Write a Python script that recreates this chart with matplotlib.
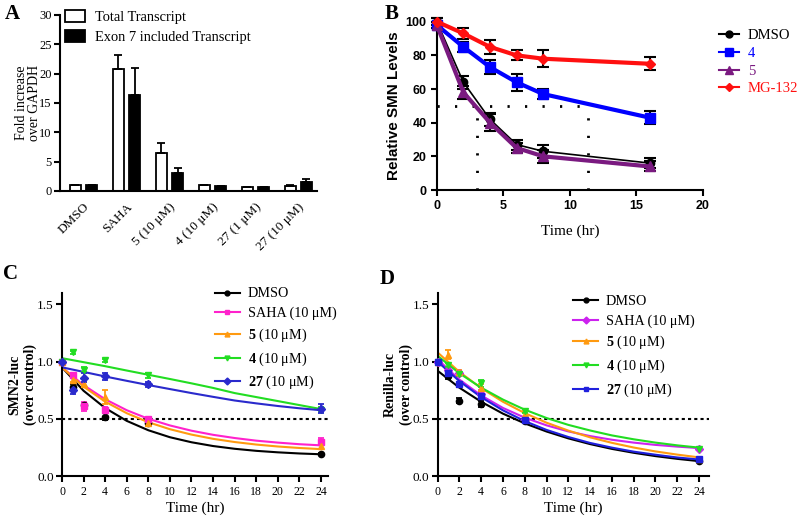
import numpy as np
import matplotlib
matplotlib.use("Agg")
import matplotlib.pyplot as plt
from matplotlib.patches import Patch
from matplotlib.lines import Line2D

plt.rcParams['font.family'] = ['Liberation Serif', 'DejaVu Serif']
plt.rcParams['mathtext.fontset'] = 'custom'
plt.rcParams['mathtext.rm'] = 'Liberation Serif'
plt.rcParams['mathtext.bf'] = 'Liberation Serif:bold'
SANS = ['Liberation Sans', 'DejaVu Sans']

# ---- panel A: transcript levels
a_groups = ['DMSO', 'SAHA', '5 (10 μM)', '4 (10 μM)', '27 (1 μM)', '27 (10 μM)']
a_total = [1.0, 20.8, 6.5, 1.0, 0.6, 0.9]
a_total_err = [0.0, 2.3, 1.6, 0.1, 0.1, 0.1]
a_exon7 = [1.0, 16.3, 3.1, 0.8, 0.6, 1.6]
a_exon7_err = [0.0, 4.6, 0.8, 0.1, 0.1, 0.5]

# ---- panel B: SMN protein time course
b_time = [0, 2, 4, 6, 8, 16]
b_dmso = [100, 64, 42, 27, 23, 16]
b_dmso_err = [2, 4, 4, 3, 4, 3]
b_c4 = [98, 85, 73, 64, 57, 43]
b_c4_err = [2, 3, 4, 5, 3, 4]
b_c5 = [98, 58, 40, 25, 20, 14]
b_c5_err = [2, 4, 5, 3, 4, 3]
b_mg = [100, 93, 85, 80, 78, 75]
b_mg_err = [2, 3, 4, 3, 5, 4]
b_half_times = [3.0, 11.4]

# ---- panels C/D: luciferase time course (points) and fitted curves
cd_time = [0, 1, 2, 4, 8, 24]
fit_time = [0, 2, 4, 6, 8, 10, 12, 14, 16, 18, 20, 22, 24]
series_labels = ['DMSO', 'SAHA (10 μM)', r'$\mathbf{5}$ (10 μM)',
                 r'$\mathbf{4}$ (10 μM)', r'$\mathbf{27}$ (10 μM)']

c_pts = [[1.00, 0.78, 0.62, 0.52, 0.46, 0.19],
         [1.00, 0.88, 0.61, 0.58, 0.50, 0.30],
         [1.00, 0.84, 0.80, 0.69, 0.46, 0.26],
         [1.00, 1.08, 0.93, 1.01, 0.88, 0.58],
         [1.00, 0.75, 0.86, 0.87, 0.80, 0.59]]
c_err = [[0.0, 0.02, 0.02, 0.03, 0.02, 0.01],
         [0.0, 0.02, 0.04, 0.02, 0.02, 0.03],
         [0.0, 0.02, 0.02, 0.06, 0.02, 0.02],
         [0.0, 0.01, 0.02, 0.01, 0.02, 0.02],
         [0.0, 0.03, 0.04, 0.03, 0.02, 0.04]]
c_fit = [[0.95, 0.745, 0.594, 0.482, 0.400, 0.339, 0.295, 0.262, 0.238, 0.220, 0.207, 0.197, 0.190],
         [0.95, 0.794, 0.671, 0.575, 0.500, 0.442, 0.396, 0.360, 0.332, 0.309, 0.292, 0.278, 0.268],
         [0.95, 0.781, 0.650, 0.549, 0.470, 0.409, 0.362, 0.325, 0.297, 0.275, 0.258, 0.245, 0.235],
         [1.03, 0.995, 0.960, 0.922, 0.885, 0.848, 0.810, 0.770, 0.725, 0.690, 0.655, 0.620, 0.585],
         [0.95, 0.910, 0.870, 0.832, 0.795, 0.760, 0.725, 0.692, 0.660, 0.635, 0.612, 0.592, 0.575]]

d_pts = [[1.00, 0.87, 0.66, 0.63, 0.48, 0.13],
         [1.00, 0.93, 0.90, 0.72, 0.50, 0.24],
         [1.00, 1.06, 0.91, 0.77, 0.54, 0.15],
         [1.00, 0.97, 0.89, 0.81, 0.57, 0.24],
         [1.00, 0.90, 0.80, 0.70, 0.49, 0.15]]
d_err = [[0.0, 0.02, 0.02, 0.03, 0.02, 0.01],
         [0.0, 0.02, 0.02, 0.03, 0.02, 0.01],
         [0.0, 0.04, 0.02, 0.03, 0.03, 0.01],
         [0.0, 0.02, 0.02, 0.03, 0.02, 0.01],
         [0.0, 0.02, 0.02, 0.03, 0.02, 0.01]]
d_fit = [[0.92, 0.772, 0.649, 0.545, 0.460, 0.389, 0.329, 0.279, 0.237, 0.203, 0.174, 0.150, 0.130],
         [1.02, 0.843, 0.704, 0.595, 0.510, 0.443, 0.390, 0.349, 0.317, 0.292, 0.272, 0.257, 0.244],
         [1.08, 0.910, 0.768, 0.649, 0.550, 0.466, 0.397, 0.338, 0.290, 0.249, 0.215, 0.187, 0.163],
         [1.05, 0.898, 0.772, 0.668, 0.580, 0.507, 0.447, 0.398, 0.355, 0.321, 0.292, 0.268, 0.248],
         [1.00, 0.829, 0.689, 0.574, 0.480, 0.403, 0.341, 0.289, 0.248, 0.213, 0.186, 0.162, 0.144]]

c_colors = ['black', '#ff22cc', '#ff9a10', '#22dd22', '#2a2acc']
d_colors = ['black', '#cc22ee', '#ff9a10', '#22dd22', '#2020dd']
c_markers = ['o', 's', '^', 'v', 'D']
d_markers = ['o', 'D', '^', 'v', 's']


def style_axes(ax):
    for s in ['top', 'right']:
        ax.spines[s].set_visible(False)
    for s in ['left', 'bottom']:
        ax.spines[s].set_linewidth(1.5)
    ax.tick_params(direction='out', width=1.5, length=4)


fig = plt.figure(figsize=(8, 5.2), dpi=100)

# ---------------- A
axA = fig.add_axes([0.075, 0.6327, 0.321, 0.3385])
style_axes(axA)
xa = np.arange(len(a_groups))
axA.bar(xa - 0.19, a_total, 0.26, color='white', edgecolor='black', linewidth=1.3)
axA.bar(xa + 0.19, a_exon7, 0.26, color='black', edgecolor='black', linewidth=1.3)
axA.errorbar(xa - 0.19, a_total, yerr=[np.zeros(len(xa)), a_total_err], fmt='none',
             ecolor='black', elinewidth=1.3, capsize=3, capthick=1.3)
axA.errorbar(xa + 0.19, a_exon7, yerr=[np.zeros(len(xa)), a_exon7_err], fmt='none',
             ecolor='black', elinewidth=1.3, capsize=3, capthick=1.3)
axA.set_xlim(-0.55, 5.43)
axA.set_ylim(0, 30)
axA.set_yticks([0, 5, 10, 15, 20, 25, 30])
axA.set_xticks(xa)
axA.set_xticklabels(a_groups, rotation=45, ha='right', rotation_mode='anchor', fontsize=9.5)
axA.tick_params(axis='x', length=0, pad=7)
axA.tick_params(axis='y', labelsize=9, pad=2)
axA.set_ylabel('Fold increase\nover GAPDH', fontsize=10, linespacing=1.0, labelpad=-1)
axA.legend(handles=[Patch(facecolor='white', edgecolor='black', linewidth=1.3),
                    Patch(facecolor='black', edgecolor='black', linewidth=1.3)],
           labels=['Total Transcript', 'Exon 7 included Transcript'],
           loc='upper left', bbox_to_anchor=(0.02, 1.03), frameon=False, fontsize=10.4,
           borderaxespad=0, borderpad=0, handlelength=1.4, handleheight=0.9,
           labelspacing=0.45, handletextpad=0.7)

# ---------------- B
axB = fig.add_axes([0.546, 0.6346, 0.3325, 0.3237])
style_axes(axB)
axB.plot([0, b_half_times[1]], [50, 50], color='black', lw=2, ls=(0, (0.8, 5.5)))
for t in b_half_times:
    axB.plot([t, t], [0, 50], color='black', lw=2, ls=(0, (0.8, 5.5)))
b_series = [(b_dmso, b_dmso_err, 'black', 'o', 1.2, 6, 'DMSO'),
            (b_c4, b_c4_err, '#0000ff', 's', 3.0, 7, '4'),
            (b_c5, b_c5_err, '#7a1a80', '^', 3.0, 7, '5'),
            (b_mg, b_mg_err, '#ff1010', 'D', 3.0, 5, 'MG-132')]
b_handles = []
for vals, err, col, mk, lw, ms, lab in b_series:
    axB.errorbar(b_time, vals, yerr=err, fmt='none', ecolor='black', elinewidth=1.5,
                 capsize=4, capthick=1.5, clip_on=False, zorder=3)
    axB.plot(b_time, vals, color=col, lw=lw, marker=mk, ms=ms, mec=col,
             clip_on=False, zorder=4)
    b_handles.append(Line2D([], [], color=col, lw=1.5, marker=mk, ms=ms - 1))
axB.set_xlim(0, 20)
axB.set_ylim(0, 100)
axB.set_xticks([0, 5, 10, 15, 20])
axB.set_yticks([0, 20, 40, 60, 80, 100])
for lbl in axB.get_xticklabels() + axB.get_yticklabels():
    lbl.set_family(SANS)
    lbl.set_fontweight('bold')
    lbl.set_fontsize(9)
axB.set_ylabel('Relative SMN Levels', family=SANS, fontweight='bold', fontsize=11, labelpad=3)
axB.set_xlabel('Time (hr)', fontsize=11, labelpad=9)
legB = axB.legend(handles=b_handles, labels=[s[6] for s in b_series], loc='upper left',
                  bbox_to_anchor=(1.06, 0.955), frameon=False, fontsize=10.5,
                  borderaxespad=0, borderpad=0, handlelength=1.4, labelspacing=0.3,
                  handletextpad=0.6)
for txt, s in zip(legB.get_texts(), b_series):
    txt.set_color(s[2])


# ---------------- C and D
def luc_panel(rect, pts, errs, fits, colors, markers, ylabel, xmax, leg_anchor):
    ax = fig.add_axes(rect)
    style_axes(ax)
    ax.axhline(0.5, color='black', lw=1.5, ls=(0, (1.5, 1.5)), zorder=1)
    handles = []
    for p, e, f, col, mk in zip(pts, errs, fits, colors, markers):
        ax.plot(fit_time, f, color=col, lw=1.5, zorder=2)
        ax.errorbar(cd_time, p, yerr=e, fmt='none', ecolor=col, elinewidth=1.3,
                    capsize=2.5, capthick=1.3, clip_on=False, zorder=3)
        ax.plot(cd_time, p, ls='none', marker=mk, ms=4.5, color=col, mec=col,
                clip_on=False, zorder=4)
        handles.append(Line2D([], [], color=col, lw=1.5, marker=mk, ms=3.5))
    ax.set_xlim(0, xmax)
    ax.set_ylim(0, 1.6)
    ax.set_yticks([0.0, 0.5, 1.0, 1.5])
    ax.set_xticks(np.arange(0, 25, 2))
    ax.tick_params(axis='x', labelsize=8.5)
    ax.tick_params(axis='y', labelsize=9.5, pad=2)
    ax.set_xlabel('Time (hr)', fontsize=11, labelpad=2)
    ax.set_ylabel(ylabel, fontsize=10, fontweight='bold', linespacing=1.2, labelpad=0)
    ax.legend(handles=handles, labels=series_labels, loc='upper left',
              bbox_to_anchor=leg_anchor, frameon=False, fontsize=10.2,
              borderaxespad=0, borderpad=0, handlelength=1.75, labelspacing=0.45,
              handletextpad=0.55)
    return ax


axC = luc_panel([0.0775, 0.0846, 0.3325, 0.352], c_pts, c_err, c_fit, c_colors, c_markers,
                'SMN2-luc\n(over control)', 24.65, (0.575, 1.03))
axD = luc_panel([0.547, 0.0846, 0.339, 0.352], d_pts, d_err, d_fit, d_colors, d_markers,
                'Renilla-luc\n(over control)', 24.9, (0.5, 0.99))

# panel letters
for letter, x, y in [('A', 0.006, 0.992), ('B', 0.481, 0.992),
                     ('C', 0.004, 0.492), ('D', 0.474, 0.482)]:
    fig.text(x, y, letter, fontsize=15, fontweight='bold', va='top', ha='left')

fig.savefig('out.png', dpi=100)
